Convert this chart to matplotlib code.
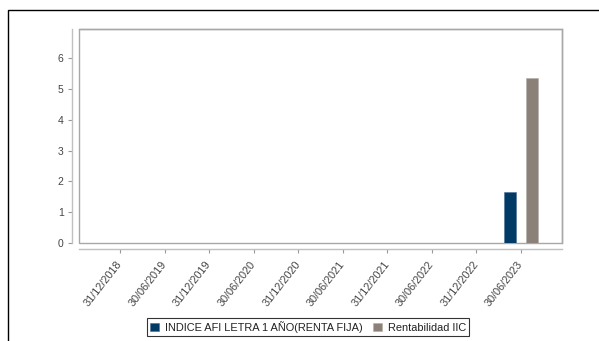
import matplotlib.pyplot as plt
import matplotlib.patches as mpatches
import numpy as np

plt.rcParams['font.family'] = ['Liberation Sans', 'DejaVu Sans']

fechas = ["31/12/2018", "30/06/2019", "31/12/2019", "30/06/2020", "31/12/2020",
          "30/06/2021", "31/12/2021", "30/06/2022", "31/12/2022", "30/06/2023"]
indice_afi = [0, 0, 0, 0, 0, 0, 0, 0, 0, 1.65]
rentabilidad_iic = [0, 0, 0, 0, 0, 0, 0, 0, 0, 5.36]
yticks = [0, 1, 2, 3, 4, 5, 6]

fig = plt.figure(figsize=(5.99, 3.41), dpi=100)
ax = fig.add_axes([79/599, 1 - 243/341, (562 - 79)/599, (243 - 29)/341])

# spines first (set_position resets the ticks)
for s in ax.spines.values():
    s.set_color('#a8a8a8')
    s.set_linewidth(1)
ax.spines['left'].set_position(('outward', 5))
ax.spines['bottom'].set_position(('outward', 4))
ax.spines['left'].set_color('#c0c0c0')
ax.spines['bottom'].set_color('#c0c0c0')
ax.add_patch(mpatches.Rectangle((0, 0), 1, 1, transform=ax.transAxes, fill=False,
                                edgecolor='#a8a8a8', linewidth=1, clip_on=False))

x = np.arange(len(fechas))
w = 0.27
ax.bar(x - 0.247, indice_afi, width=w, color='#023a66', edgecolor='#4a6f92', linewidth=0.4,
       label='INDICE AFI LETRA 1 AÑO(RENTA FIJA)')
ax.bar(x + 0.247, rentabilidad_iic, width=w, color='#8b8179', edgecolor='#b5aea8', linewidth=0.4,
       label='Rentabilidad IIC')

ax.set_xlim(-0.92, 9.92)
ax.set_ylim(0, 6.95)
ax.tick_params(axis='both', labelsize=7.5, colors='#9a9a9a', labelcolor='#444444', length=3, width=0.8)
ax.tick_params(axis='x', pad=7, labelsize=7.8)
ax.tick_params(axis='y', pad=3)
ax.set_yticks(yticks)
ax.set_xticks(x)
ax.set_xticklabels(fechas, rotation=52, ha='right', va='center', rotation_mode='anchor')
for lbl in ax.get_xticklabels():
    lbl.set_x(lbl.get_position()[0])

# outer frame
fig.patches.append(mpatches.Rectangle((8/599, -0.05), 1.05, 1 - 10/341 + 0.05,
                                      transform=fig.transFigure, fill=False,
                                      edgecolor='black', linewidth=1))

leg = fig.legend(loc='center', bbox_to_anchor=(308/599, 1 - 327/341), ncol=2,
                 fontsize=7.9, frameon=True, fancybox=False, edgecolor='black',
                 handlelength=0.8, handleheight=0.8, handletextpad=0.5,
                 columnspacing=1.0, borderpad=0.3, borderaxespad=0)
leg.get_frame().set_linewidth(0.8)
for t in leg.get_texts():
    t.set_color('#222222')

fig.savefig("out.png", dpi=100)
